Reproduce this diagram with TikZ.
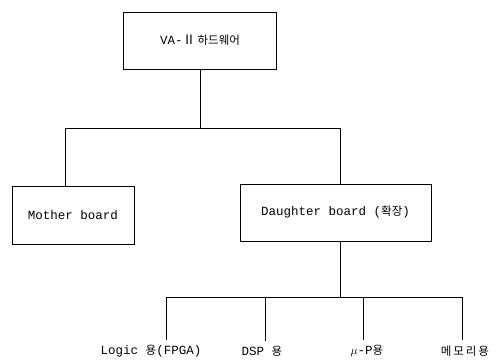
\documentclass[tikz,border=0pt]{standalone}
\usepackage{fontspec}
\setmainfont{Liberation Mono}
\newfontfamily\krfont{Noto Sans CJK KR}
\newcommand{\kr}[1]{{\krfont\fontsize{11.5}{13}\selectfont #1}}
\usepackage{tikz}

\begin{document}
\begin{tikzpicture}[x=1pt, y=-1pt, line width=0.6pt,
    boardbox/.style={draw, minimum height=57pt, inner sep=0pt, font=\fontsize{12.5}{14}\selectfont},
    leaflabel/.style={inner xsep=1pt, inner ysep=5pt, font=\fontsize{12.5}{14}\selectfont}]
  \useasboundingbox (0,0) rectangle (498,361);
  \node[boardbox, minimum width=153pt] (hw) at (200,40.5) {VA-{\krfont\fontsize{13}{14}\selectfont Ⅱ}\,\kr{하드웨어}};
  \node[boardbox, minimum width=122pt, minimum height=58pt] (mother) at (73,215) {Mother board};
  \node[boardbox, minimum width=191pt] (daughter) at (335.5,212.5) {Daughter board (\kr{확장})};
  \node[leaflabel] (logic) at (151,351) {Logic \kr{용}(FPGA)};
  \node[leaflabel] (dsp) at (262,351) {DSP \kr{용}};
  \node[leaflabel] (mup) at (367,351) {$\mu$-P\kr{용}};
  \node[leaflabel] (mem) at (465,351) {\kr{메\,모\,리\,용}};
  \coordinate (j1) at (hw.south |- 0,128);
  \coordinate (jm) at (65,128);
  \coordinate (jd) at (340,128);
  \coordinate (j2) at (340,297);
  \coordinate (bl) at (166,297);
  \coordinate (bd) at (265,297);
  \coordinate (bu) at (363,297);
  \coordinate (br) at (462,297);
  \draw (hw.south) -- (j1);
  \draw (jm) -- (jd);
  \draw (jm) -- (jm |- mother.north);
  \draw (jd) -- (jd |- daughter.north);
  \draw (daughter.south -| j2) -- (j2);
  \draw (bl) -- (br);
  \draw (bl) -- (bl |- logic.north);
  \draw (bd) -- (bd |- dsp.north);
  \draw (bu) -- (bu |- mup.north);
  \draw (br) -- (br |- mem.north);
\end{tikzpicture}
\end{document}
